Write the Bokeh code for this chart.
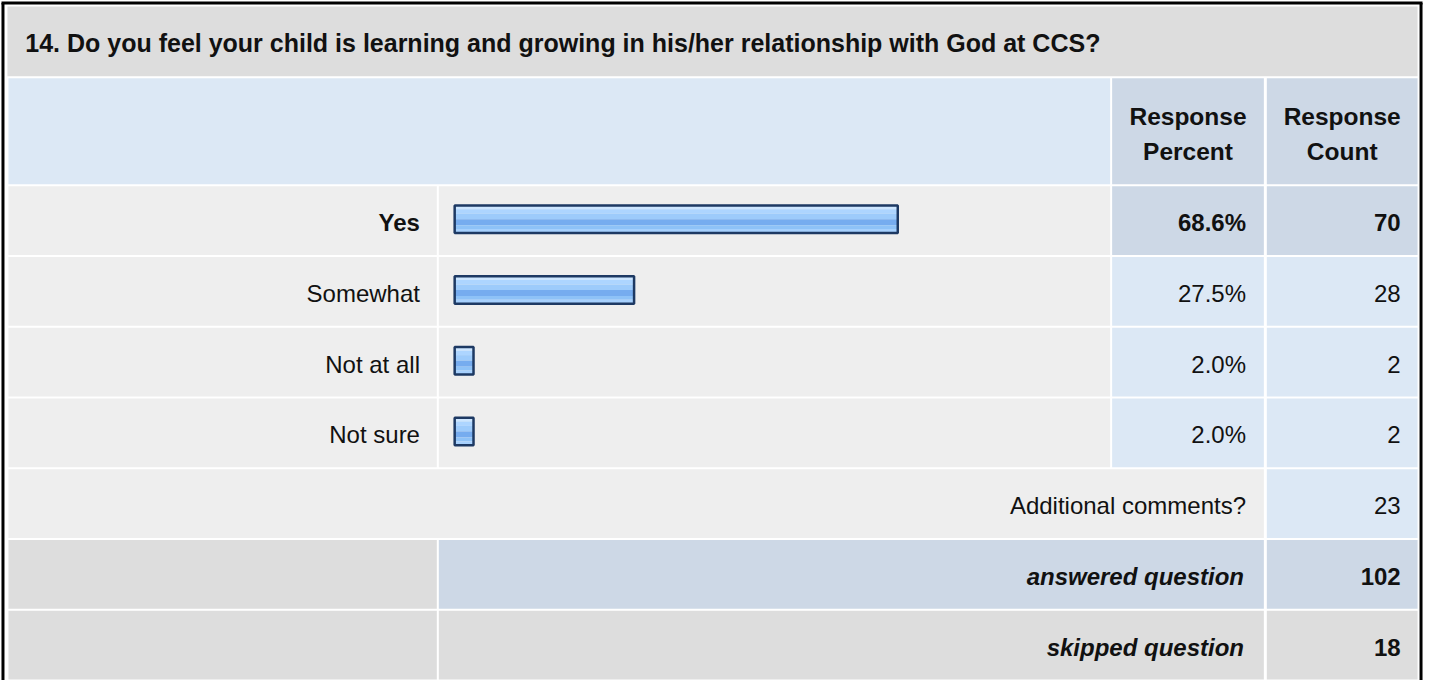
from bokeh.plotting import figure
from bokeh.models import Range1d, ColumnDataSource
from bokeh.core.properties import value
from bokeh.embed import file_html
from bokeh.resources import INLINE

# ---------------- data ----------------
question = "14. Do you feel your child is learning and growing in his/her relationship with God at CCS?"
header_top = ["Response", "Response"]
header_bottom = ["Percent", "Count"]
choices = ["Yes", "Somewhat", "Not at all", "Not sure"]
percents = [68.6, 27.5, 2.0, 2.0]
counts = [70, 28, 2, 2]
comments_label = "Additional comments?"
comments_count = 23
answered_label = "answered question"
answered_count = 102
skipped_label = "skipped question"
skipped_count = 18

# ---------------- style / layout ----------------
FONT = value("Liberation Sans")
C_TITLE = "#dddddd"
C_LBLUE = "#dce8f5"
C_MBLUE = "#cdd8e6"
C_LGREY = "#eeeeee"
C_GREY = "#dddddd"
TXT = "#111111"

X0, X_LAB, X_BAR, X_PCT, X_CNT, X1 = 10, 442, 444, 1123, 1279, 1431
X_LAB_END, X_BAR_END, X_PCT_END = 442, 1121, 1276
ROW0, PITCH, ROW_H = 192, 72, 70

p = figure(width=1424, height=680, output_backend="svg", toolbar_location=None,
           x_range=Range1d(2, 1438), y_range=Range1d(695, 3),
           min_border=0, background_fill_color="white", border_fill_color="white")
p.axis.visible = False
p.grid.visible = False
p.outline_line_color = None

cells = dict(l=[], r=[], t=[], b=[], c=[])
def cell(l, r, t, b, c):
    cells["l"].append(l); cells["r"].append(r); cells["t"].append(t); cells["b"].append(b); cells["c"].append(c)

# title band & header
cell(9, X1, 9, 80, C_TITLE)
cell(X0, X_BAR_END, 82, 190, C_LBLUE)
cell(X_PCT, X_PCT_END, 82, 190, C_MBLUE)
cell(X_CNT, X1, 82, 190, C_MBLUE)

imax = percents.index(max(percents))
n = len(choices)
row_tops = [ROW0 + i * PITCH for i in range(n + 3)]
for i in range(n):
    t = row_tops[i]; b = t + ROW_H
    hi = (i == imax)
    cell(X0, X_LAB_END, t, b, C_LGREY)
    cell(X_BAR, X_BAR_END, t, b, C_LGREY)
    cell(X_PCT, X_PCT_END, t, b, C_MBLUE if hi else C_LBLUE)
    cell(X_CNT, X1, t, b, C_MBLUE if hi else C_LBLUE)

t = row_tops[n]
cell(X0, X_PCT_END, t, t + ROW_H, C_LGREY)
cell(X_CNT, X1, t, t + ROW_H, C_LBLUE)
t = row_tops[n + 1]
cell(X0, X_LAB_END, t, t + ROW_H, C_GREY)
cell(X_BAR, X_PCT_END, t, t + ROW_H, C_MBLUE)
cell(X_CNT, X1, t, t + ROW_H, C_MBLUE)
t = row_tops[n + 2]
cell(X0, X_LAB_END, t, t + ROW_H, C_GREY)
cell(X_BAR, X_PCT_END, t, t + ROW_H, C_GREY)
cell(X_CNT, X1, t, t + ROW_H, C_GREY)

p.quad(left="l", right="r", top="t", bottom="b", fill_color="c", line_color=None,
       source=ColumnDataSource(cells))

# outer frame
p.multi_line(xs=[[4.5, 4.5], [3, 1436], [1434.5, 1434.5]],
             ys=[[5.5, 700], [5.5, 5.5], [5.5, 700]], line_color="black", line_width=3)

# bars
BAR_L, PX_PER_PCT, PAD, MIN_W = 460, 6.47, 3, 19
strip_fr = [0.0, 0.14, 0.30, 0.50, 0.72, 0.86, 1.0]
strip_col = ["#cde6ff", "#add5ff", "#9dcbfb", "#76acef", "#8ec2f7", "#a6d0fd"]
sl, sr, st, sb, sc = [], [], [], [], []
bl, br, bt, bb = [], [], [], []
for i, pct in enumerate(percents):
    right = BAR_L + max(pct * PX_PER_PCT + PAD, MIN_W)
    top = row_tops[i] + 19.5
    bot = row_tops[i] + 47.5
    bl.append(BAR_L); br.append(right); bt.append(top); bb.append(bot)
    for k in range(len(strip_col)):
        sl.append(BAR_L); sr.append(right)
        st.append(top + (bot - top) * strip_fr[k]); sb.append(top + (bot - top) * strip_fr[k + 1])
        sc.append(strip_col[k])
p.quad(left=sl, right=sr, top=st, bottom=sb, fill_color=sc, line_color=None)
p.quad(left=bl, right=br, top=bt, bottom=bb, fill_color=None, line_color="#1d3963", line_width=2.5)

# texts
def txt(x, y, s, align, bold=False, italic=False, size="24px"):
    style = "bold italic" if (bold and italic) else ("bold" if bold else ("italic" if italic else "normal"))
    p.text(x=[x], y=[y], text=[s], text_align=align, text_baseline="middle",
           text_font=FONT, text_font_size=size, text_font_style=style, text_color=TXT)

txt(27, 46, question, "left", bold=True, size="25px")
for j, xc in enumerate([(X_PCT + X_PCT_END) / 2, (X_CNT + X1) / 2]):
    txt(xc, 121, header_top[j], "center", bold=True, size="24.5px")
    txt(xc, 157, header_bottom[j], "center", bold=True, size="24.5px")

for i in range(n):
    yc = row_tops[i] + 37
    hi = (i == imax)
    txt(425, yc, choices[i], "right", bold=hi)
    txt(1258, yc, f"{percents[i]:.1f}%", "right", bold=hi)
    txt(1414, yc, str(counts[i]), "right", bold=hi)

yc = row_tops[n] + 37
txt(1258, yc, comments_label, "right")
txt(1414, yc, str(comments_count), "right")
yc = row_tops[n + 1] + 37
txt(1256, yc, answered_label, "right", bold=True, italic=True)
txt(1414, yc, str(answered_count), "right", bold=True)
yc = row_tops[n + 2] + 37
txt(1256, yc, skipped_label, "right", bold=True, italic=True)
txt(1414, yc, str(skipped_count), "right", bold=True)

open("out.html", "w").write(file_html(p, INLINE))
